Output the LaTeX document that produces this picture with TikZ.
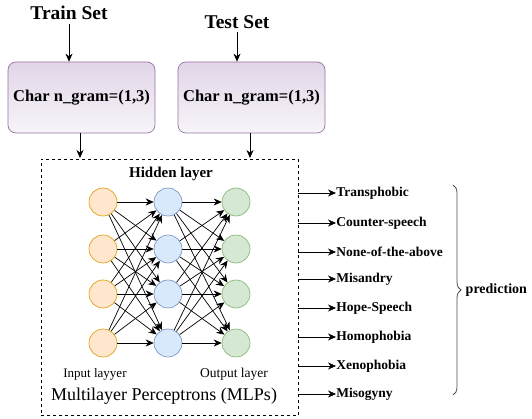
\documentclass[tikz,border=0pt]{standalone}
\usepackage{fontspec}
\setmainfont{Liberation Serif}
\usepackage{tikz}
\usetikzlibrary{positioning, arrows.meta, decorations.pathreplacing}

\definecolor{purpleFill}{HTML}{E1D5E7}
\definecolor{purpleLine}{HTML}{9673A6}
\definecolor{inFill}{HTML}{FFE6CC}
\definecolor{inLine}{HTML}{D79B00}
\definecolor{hidFill}{HTML}{DAE8FC}
\definecolor{hidLine}{HTML}{6C8EBF}
\definecolor{outFill}{HTML}{D5E8D4}
\definecolor{outLine}{HTML}{82B366}

\tikzset{
    setbox/.style={draw=purpleLine, rounded corners=8pt, minimum width=147pt, minimum height=71pt,
        inner sep=1pt, top color=purpleFill, bottom color=purpleFill!25, font=\bfseries\fontsize{16.5}{18}\selectfont},
    neuron/.style={circle, draw, minimum size=28pt, inner sep=0pt, line width=0.6pt},
    inneuron/.style={neuron, draw=inLine, fill=inFill},
    hidneuron/.style={neuron, draw=hidLine, fill=hidFill},
    outneuron/.style={neuron, draw=outLine, fill=outFill},
    classlabel/.style={anchor=west, inner sep=0pt, font=\bfseries\fontsize{13.5}{15}\selectfont}
}

\begin{document}
\begin{tikzpicture}[x=1pt, y=-1pt, >={Stealth[length=8pt, width=7pt]}, line width=0.7pt]
    \useasboundingbox (0,0) rectangle (532,419);

    % Define inputs and features
    \node[font=\bfseries\fontsize{19.5}{21}\selectfont] (train) at (69,13) {Train Set};
    \node[font=\bfseries\fontsize{19.5}{21}\selectfont] (test) at (237,22) {Test Set};
    \node[setbox] (feat1) at (81.5,97.5) {Char n\_gram=(1,3)};
    \node[setbox] (feat2) at (251.5,97.5) {Char n\_gram=(1,3)};

    % MLP frame
    \node[draw, dashed, line width=0.6pt, minimum width=257pt, minimum height=256pt, inner sep=0pt] (mlp) at (169.5,287.5) {};

    \draw[->] (train) -- (train |- feat1.north);
    \draw[->] (test) -- (test |- feat2.north);
    \draw[->] (feat1.south -| 80,0) -- (80,158);
    \draw[->] (feat2.south -| 250,0) -- (250,158);

    % Define neurons
    \foreach \i/\y in {1/202, 2/249, 3/294, 4/343} {
        \node[inneuron] (in\i) at (103,\y) {};
        \node[hidneuron] (hid\i) at (168,\y) {};
        \node[outneuron] (out\i) at (236,\y) {};
    }

    % Draw edges with arrows
    \foreach \i in {1,...,4} {
        \foreach \j in {1,...,4} {
            \draw[->] (in\i) -- (hid\j);
            \draw[->] (hid\i) -- (out\j);
        }
    }

    \node[font=\bfseries\fontsize{15}{17}\selectfont] (hidlab) at (171,174) {Hidden layer};
    \node[font=\fontsize{13}{15}\selectfont] (inlab) at (95,374) {Input layyer};
    \node[font=\fontsize{13.5}{15}\selectfont] (outlab) at (234,374) {Output layer};
    \node[font=\fontsize{18}{20}\selectfont] (mlplab) at (164,396) {Multilayer Perceptrons (MLPs)};

    % Predicted classes
    \foreach \name/\txt/\y in {c1/Transphobic/193, c2/Counter-speech/223, c3/None-of-the-above/252,
        c4/Misandry/279, c5/Hope-Speech/308, c6/Homophobia/337, c7/Xenophobia/366, c8/Misogyny/394} {
        \node[classlabel] (\name) at (336,\y) {\txt};
        \draw[->] (mlp.east |- \name.west) -- (\name.west);
    }

    \coordinate (braceTop) at (453,185);
    \coordinate (braceBot) at (453,395);
    \draw[decorate, decoration={brace, amplitude=8pt}, line width=0.8pt, black!70] (braceTop) -- (braceBot)
        node[midway, right=9pt, black, font=\bfseries\fontsize{14}{16}\selectfont] (pred) {prediction};

\end{tikzpicture}
\end{document}
